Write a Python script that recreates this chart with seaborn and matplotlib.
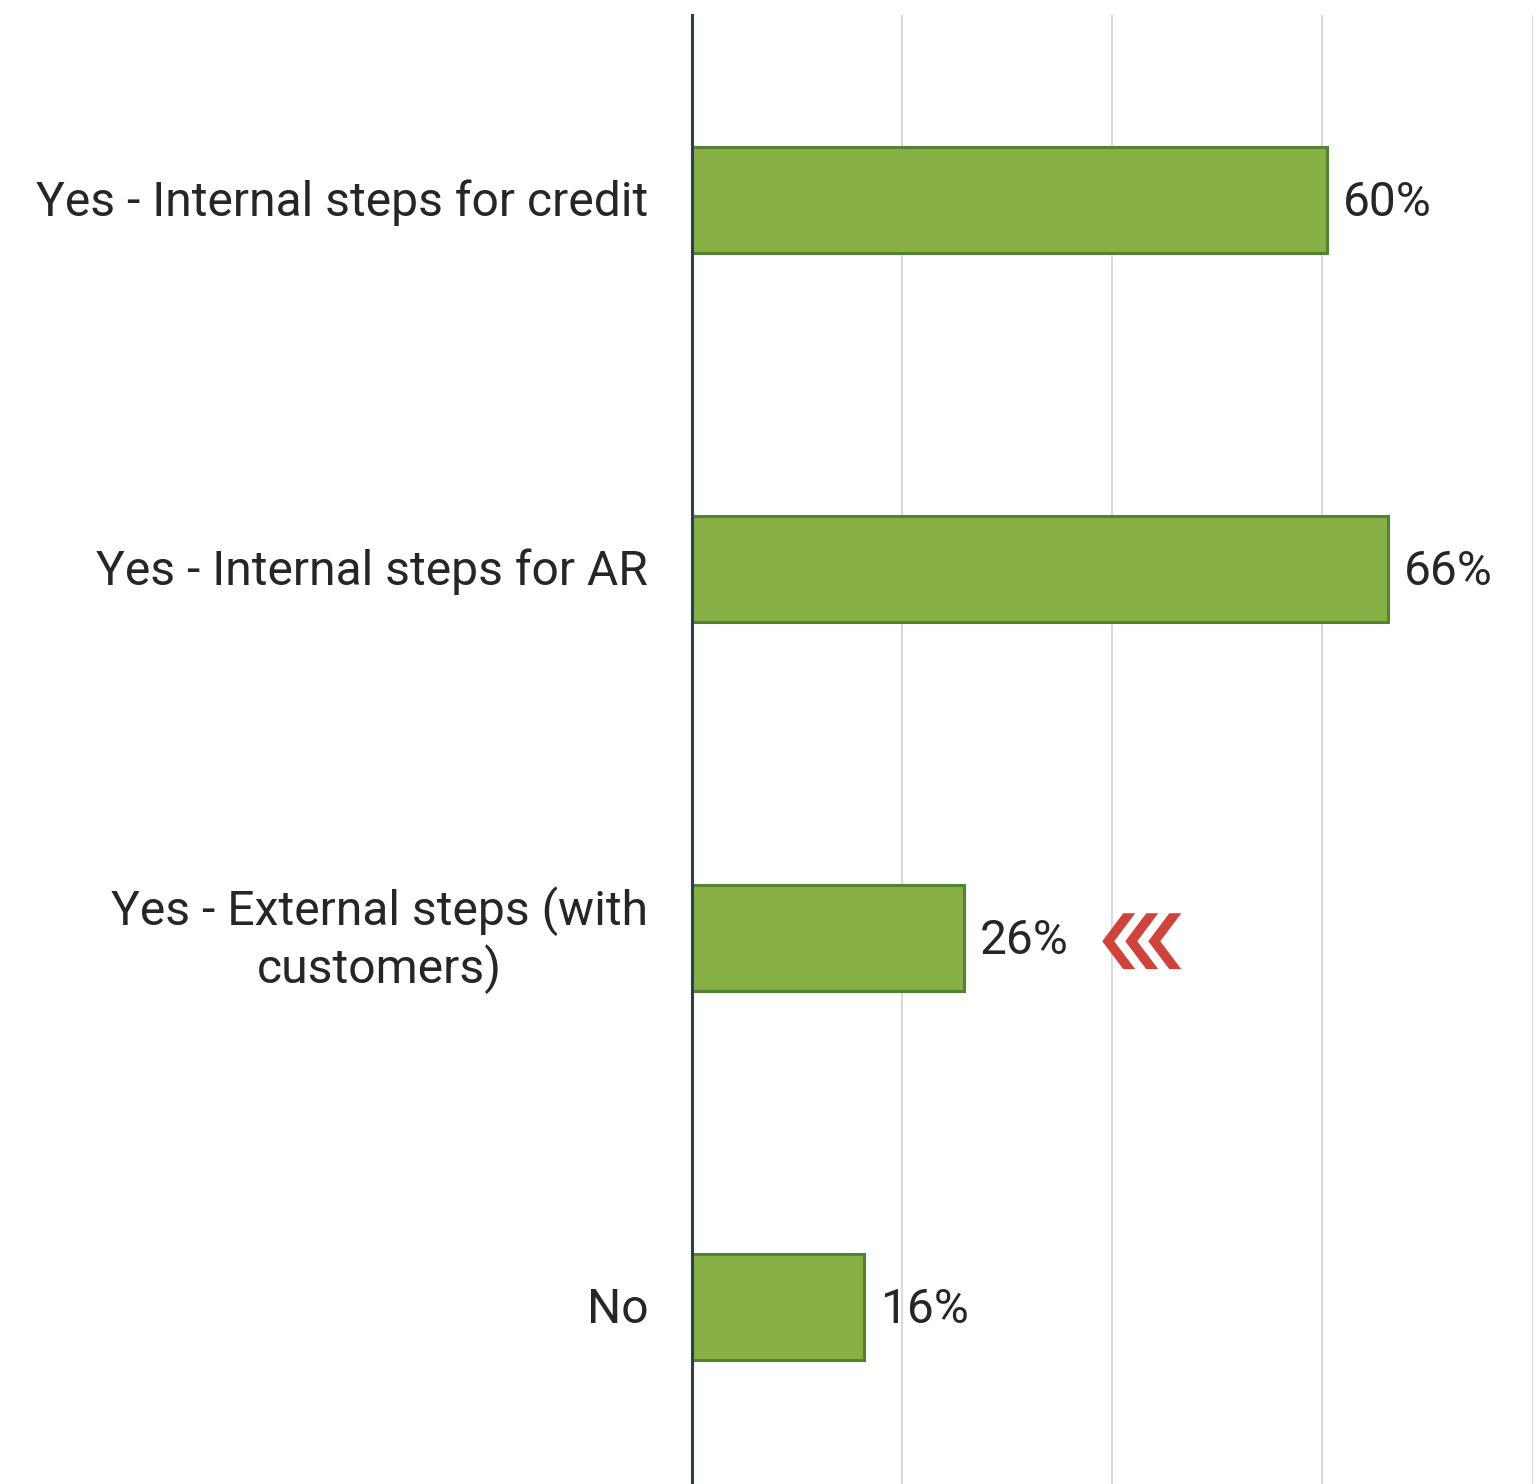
import matplotlib
matplotlib.use("Agg")
import matplotlib.pyplot as plt
from matplotlib.patches import Polygon
import matplotlib.transforms as mtransforms
import seaborn as sns
import pandas as pd

categories = ["Yes - Internal steps for credit", "Yes - Internal steps for AR",
              "Yes - External steps (with\ncustomers)", "No"]
values = [60.4, 66.2, 25.9, 16.4]
value_labels = ["60%", "66%", "26%", "16%"]

sns.set_theme(style="white")
plt.rcParams["font.family"] = ["Roboto", "DejaVu Sans"]

W, H, DPI = 1536, 1484, 100
fig = plt.figure(figsize=(W / DPI, H / DPI), dpi=DPI)
ax = fig.add_axes([692 / W, 0, (1532.5 - 692) / W, 1 - 15 / H])

df = pd.DataFrame({"cat": categories, "val": values})
sns.barplot(data=df, x="val", y="cat", orient="h", color="#86B044",
            saturation=1, edgecolor="#548235", linewidth=2.2, width=0.287, ax=ax)

ax.set_xlim(0, 80)
ax.set_ylim(3.48, -0.5)
ax.set_xticks([20, 40, 60, 80])
ax.set_xticklabels([])
ax.tick_params(axis="x", length=0)
ax.tick_params(axis="y", length=0, pad=31.5, labelsize=34.6, labelcolor="#262626")
ax.grid(axis="x", color="#D9D9D9", linewidth=1.5)
ax.set_axisbelow(True)
ax.set_xlabel("")
ax.set_ylabel("")
for s in ["top", "right", "bottom"]:
    ax.spines[s].set_visible(False)
ax.spines["left"].set_color("#2E3D52")
ax.spines["left"].set_linewidth(2.2)
ax.spines["left"].set_zorder(5)
for i, lab in enumerate(ax.get_yticklabels()):
    lab.set_multialignment("center")
    dy = 7 if "\n" in lab.get_text() else 2
    lab.set_transform(lab.get_transform() +
                      mtransforms.ScaledTranslation(0, dy / DPI, fig.dpi_scale_trans))

anns = ax.bar_label(ax.containers[0], labels=value_labels, padding=11.5,
                    fontsize=34.5, color="#262626")
for a in anns:
    a.xyann = (a.xyann[0], -2.6)

# red chevron marker next to the "External steps" bar
xpx = lambda p: (p - 692) / 10.5
yc, yt, yb = 2.0095, 1.9336, 2.085
for k in range(3):
    o = k * 23
    pts = [(xpx(1102 + o), yc), (xpx(1123 + o), yt), (xpx(1135 + o), yt),
           (xpx(1114 + o), yc), (xpx(1135 + o), yb), (xpx(1123 + o), yb)]
    ax.add_patch(Polygon(pts, closed=True, facecolor="#D0433A", edgecolor="none",
                         zorder=6, clip_on=False))

fig.savefig("out.png", dpi=DPI)
